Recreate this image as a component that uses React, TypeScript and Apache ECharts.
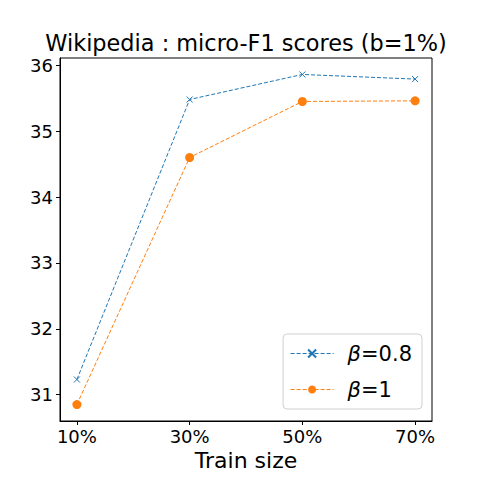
import React, { useEffect, useRef } from "react";
import * as echarts from "echarts";

const categories = ["10%", "30%", "50%", "70%"];
const beta08 = [31.23, 35.48, 35.86, 35.79];
const beta1 = [30.85, 34.6, 35.45, 35.46];
const yTicks = [31, 32, 33, 34, 35, 36];

const FONT = "DejaVu Sans";

export default function App() {
  const ref = useRef<HTMLDivElement>(null);
  useEffect(() => {
    const chart = echarts.init(ref.current!, null, { renderer: "svg" });
    const xIdx = categories.map((_, i) => i);
    chart.setOption({
      animation: false,
      textStyle: { fontFamily: FONT },
      title: {
        text: "Wikipedia : micro-F1 scores (b=1%)",
        left: 246,
        textAlign: "center",
        top: 32,
        padding: 0,
        textStyle: { fontFamily: FONT, fontSize: 22.4, fontWeight: "normal", color: "#000" },
      },
      grid: {
        left: 60,
        right: 48,
        top: 58,
        bottom: 59,
        containLabel: false,
        show: true,
        borderColor: "#000",
        borderWidth: 1,
        backgroundColor: "transparent",
      },
      xAxis: {
        type: "value",
        min: -0.15,
        max: 3.15,
        name: "Train size",
        nameLocation: "middle",
        nameGap: 27,
        nameTextStyle: { fontFamily: FONT, fontSize: 22, color: "#000" },
        axisLine: { show: true, onZero: false, lineStyle: { color: "#000", width: 1 } },
        axisTick: { show: true, customValues: xIdx, length: 4, lineStyle: { color: "#000" } },
        axisLabel: {
          customValues: xIdx,
          formatter: (v: number) => categories[Math.round(v)] ?? "",
          fontFamily: FONT,
          fontSize: 18,
          color: "#000",
          margin: 6,
        },
        splitLine: { show: false },
      },
      yAxis: {
        type: "value",
        min: 30.6,
        max: 36.11,
        axisLine: { show: true, onZero: false, lineStyle: { color: "#000", width: 1 } },
        axisTick: { show: true, customValues: yTicks, length: 4, lineStyle: { color: "#000" } },
        axisLabel: {
          customValues: yTicks,
          fontFamily: FONT,
          fontSize: 18,
          color: "#000",
          margin: 7,
        },
        splitLine: { show: false },
      },
      legend: {
        right: 58,
        top: 334,
        orient: "vertical",
        itemWidth: 43,
        itemHeight: 10,
        itemGap: 15,
        padding: [9, 10, 9, 7],
        borderColor: "#d0d0d0",
        borderWidth: 1,
        borderRadius: 4,
        backgroundColor: "#fff",
        lineStyle: { width: 1 },
        textStyle: {
          fontFamily: FONT,
          fontSize: 21,
          color: "#000",
          padding: [0, 0, 0, 9],
          rich: {
            b: { fontFamily: FONT, fontStyle: "italic", fontSize: 21, color: "#000" },
            n: { fontFamily: FONT, fontSize: 21, color: "#000" },
          },
        },
        formatter: (name: string) => {
          const rest = name.replace("β", "");
          return "{b|β}{n|" + rest + "}";
        },
        data: ["β=0.8", "β=1"],
      },
      series: [
        {
          name: "β=0.8",
          type: "line",
          data: beta08.map((v, i) => [i, v]),
          symbol: "path://M0,0L10,10M10,0L0,10",
          symbolSize: 6,
          itemStyle: { color: "#1f77b4", borderColor: "#1f77b4", borderWidth: 1 },
          lineStyle: { color: "#1f77b4", width: 1, type: [4, 2] },
        },
        {
          name: "β=1",
          type: "line",
          data: beta1.map((v, i) => [i, v]),
          symbol: "circle",
          symbolSize: 9,
          itemStyle: { color: "#ff7f0e", borderWidth: 0 },
          lineStyle: { color: "#ff7f0e", width: 1, type: [4, 2] },
        },
      ],
    });
    return () => chart.dispose();
  }, []);
  return <div ref={ref} style={{ width: 480, height: 480, margin: -8 }} />;
}
